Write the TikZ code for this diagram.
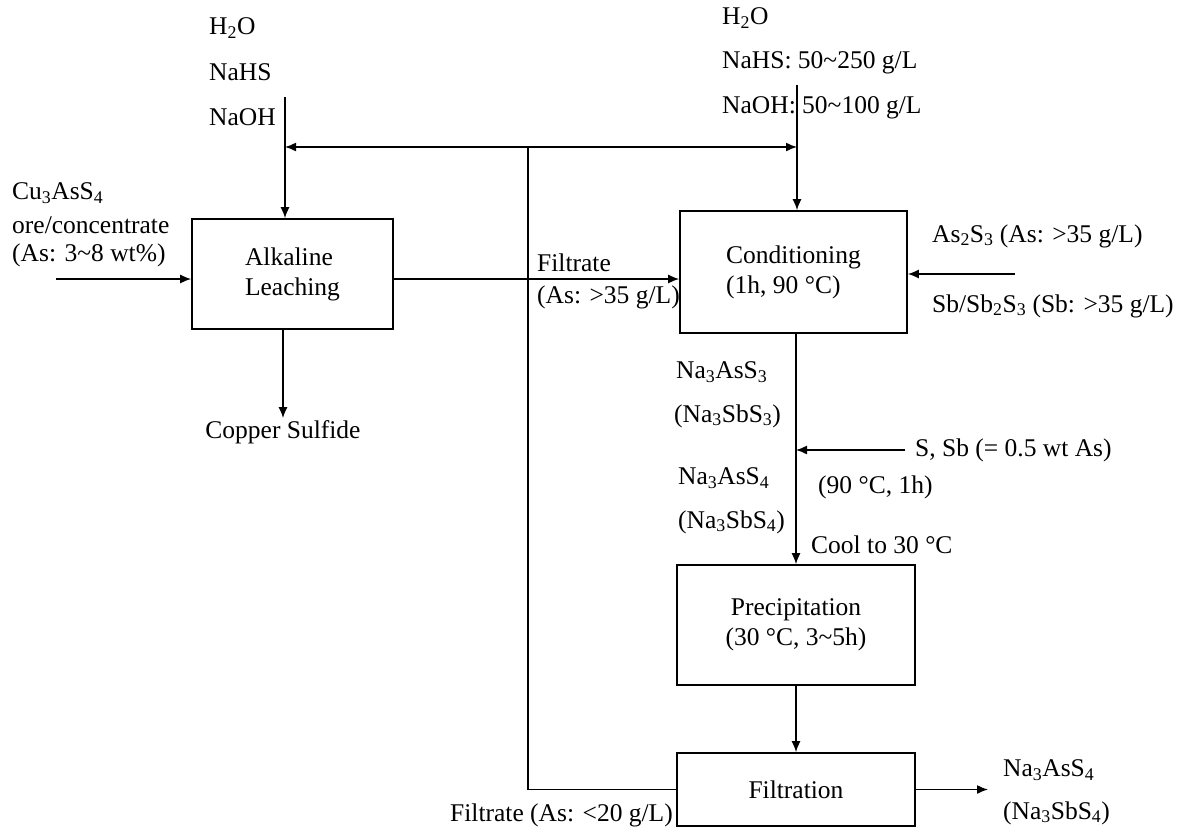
\documentclass[tikz,border=0pt]{standalone}
\usepackage{fontspec}
\setmainfont{Liberation Serif}
\usetikzlibrary{arrows.meta,positioning}
\newcommand{\chsub}[1]{\textsubscript{#1}}
\newcommand{\tld}{\textasciitilde}

\begin{document}
\begin{tikzpicture}[x=1pt, y=-1pt,
    every node/.style={font=\fontsize{25.5}{30}\selectfont, inner sep=2pt},
    unit/.style={draw, line width=1.7pt, inner sep=0pt},
    flow/.style={-{Latex[length=11pt,width=9pt]}, line width=1.4pt},
    pipe/.style={line width=1.4pt},
    lbl/.style={anchor=west}]
    \useasboundingbox (0,0) rectangle (1184,831);

    % Process units
    \node[unit, minimum width=201pt, minimum height=110pt, align=left] (leach) at (292.5,274) {Alkaline\\Leaching};
    \node[unit, minimum width=227pt, minimum height=122pt, align=left] (cond) at (793.5,272) {Conditioning\\(1h, 90 °C)};
    \node[unit, minimum width=238pt, minimum height=120pt, align=center] (precip) at (796,625) {Precipitation\\(30 °C, 3\tld5h)};
    \node[unit, minimum width=238pt, minimum height=73pt] (filt) at (796,789.5) {Filtration};

    % Leaching reagents
    \node[lbl] (lwater) at (207,28) {H\chsub{2}O};
    \node[lbl] (lnahs) at (207,72) {NaHS};
    \node[lbl] (lnaoh) at (207,117) {NaOH};
    \coordinate (lin) at (285,97);
    \draw[flow] (lin) -- (lin |- leach.north);

    % Ore feed
    \node[lbl] (ore1) at (10,193) {Cu\chsub{3}AsS\chsub{4}};
    \node[lbl] (ore2) at (10,225) {ore/concentrate};
    \node[lbl] (ore3) at (10,255) {(As: 3\tld8 wt\%)};
    \coordinate (orein) at (56,279);
    \draw[flow] (orein) -- (orein -| leach.west);

    % Solid residue
    \node (cus) at (283,432) {Copper Sulfide};
    \draw[flow] (cus.north |- leach.south) -- (cus.north);

    % Leach liquor to conditioning
    \draw[flow] (orein -| leach.east) -- (orein -| cond.west);
    \node[lbl] (filt1) at (535,263) {Filtrate};
    \node[lbl] (filt2) at (535,297) {(As: >35 g/L)};

    % Conditioning reagents
    \node[lbl] (rwater) at (720,18) {H\chsub{2}O};
    \node[lbl] (rnahs) at (720,63) {NaHS: 50\tld250 g/L};
    \node[lbl] (rnaoh) at (720,108) {NaOH: 50\tld100 g/L};
    \coordinate (rin) at (797,85);
    \draw[flow] (rin) -- (rin |- cond.north);

    % Arsenic/antimony sources
    \node[lbl] (as2s3) at (930,236) {As\chsub{2}S\chsub{3} (As: >35 g/L)};
    \node[lbl] (sb2s3) at (930,306) {Sb/Sb\chsub{2}S\chsub{3} (Sb: >35 g/L)};
    \coordinate (asin) at (1015,274);
    \draw[flow] (asin) -- (asin -| cond.east);

    % Conditioning to precipitation
    \draw[flow] (cond.south -| precip.north) -- (precip.north);
    \node[lbl] (thio1) at (674,372) {Na\chsub{3}AsS\chsub{3}};
    \node[lbl] (thio2) at (672,416) {(Na\chsub{3}SbS\chsub{3})};
    \node[lbl] (tetra1) at (676,478) {Na\chsub{3}AsS\chsub{4}};
    \node[lbl] (tetra2) at (676,522) {(Na\chsub{3}SbS\chsub{4})};
    \node[lbl] (sulf) at (913,450) {S, Sb (= 0.5 wt As)};
    \draw[flow, shorten <=8pt] (sulf.west) -- (sulf.west -| precip.north);
    \node[lbl] (oxcond) at (816,487) {(90 °C, 1h)};
    \node[lbl] (cool) at (809,545) {Cool to 30 °C};

    % Precipitation to filtration
    \draw[flow] (precip.south) -- (filt.north);

    % Product
    \coordinate (pout) at (988,792);
    \draw[flow] (filt.east) -- (filt.east -| pout);
    \node[lbl] (prod1) at (1001,770) {Na\chsub{3}AsS\chsub{4}};
    \node[lbl] (prod2) at (1001,813) {(Na\chsub{3}SbS\chsub{4})};

    % Filtrate recycle
    \coordinate (rtop) at (528,147);
    \draw[pipe] (filt.west) -- (rtop |- filt.west) -- (rtop);
    \draw[flow] (rtop) -- (lin |- rtop);
    \draw[flow] (rtop) -- (rin |- rtop);
    \node[lbl] (recyc) at (448,815) {Filtrate (As: <20 g/L)};
\end{tikzpicture}
\end{document}
